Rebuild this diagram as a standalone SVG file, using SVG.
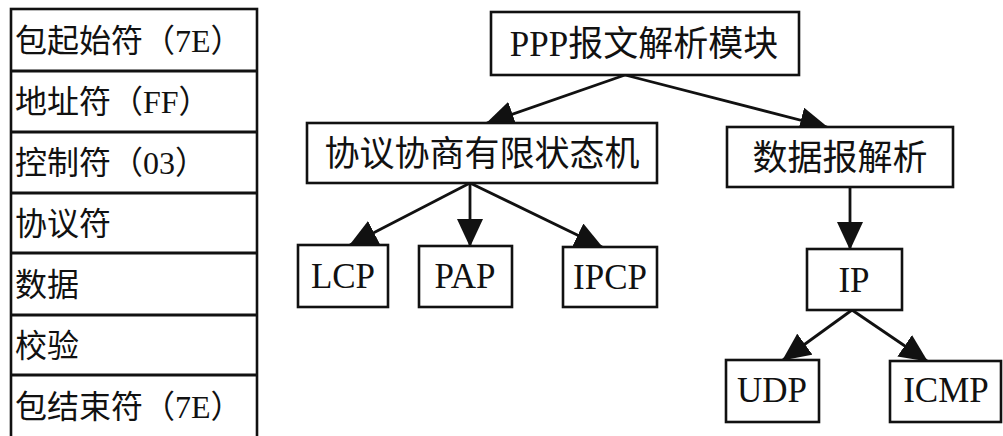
<svg xmlns="http://www.w3.org/2000/svg" width="1003" height="436" viewBox="0 0 1003 436">
<style>
.box{fill:#fff;stroke:#111;stroke-width:2.6}
.t{font-family:"Liberation Serif","Noto Sans CJK SC",serif;fill:#111}
.tl{font-size:32px}
.tm{font-size:35px;text-anchor:middle}
.c{stroke:#111;stroke-width:2.8;fill:none}
</style>
<defs>
<marker id="ah" markerUnits="userSpaceOnUse" markerWidth="28" markerHeight="26" viewBox="0 0 28 26" refX="27" refY="13" orient="auto">
<path d="M0,0 L28,13 L0,26 Z" fill="#111"/>
</marker>
</defs>
<rect width="1003" height="436" fill="#fff"/>
<g id="frame-table">
<rect class="box" x="11" y="9" width="246" height="440"/>
<line class="c" x1="11" y1="71" x2="257" y2="71"/>
<line class="c" x1="11" y1="132" x2="257" y2="132"/>
<line class="c" x1="11" y1="193" x2="257" y2="193"/>
<line class="c" x1="11" y1="253" x2="257" y2="253"/>
<line class="c" x1="11" y1="315" x2="257" y2="315"/>
<line class="c" x1="11" y1="375" x2="257" y2="375"/>
<text class="t tl" x="15" y="52">包起始符（7E）</text>
<text class="t tl" x="15" y="113">地址符（FF）</text>
<text class="t tl" x="15" y="174">控制符（03）</text>
<text class="t tl" x="15" y="235">协议符</text>
<text class="t tl" x="15" y="296">数据</text>
<text class="t tl" x="15" y="357">校验</text>
<text class="t tl" x="15" y="418">包结束符（7E）</text>
</g>
<g id="connectors">
<line class="c" x1="625" y1="75" x2="487" y2="123" marker-end="url(#ah)"/>
<line class="c" x1="625" y1="75" x2="827" y2="127" marker-end="url(#ah)"/>
<line class="c" x1="470" y1="183" x2="350" y2="245" marker-end="url(#ah)"/>
<line class="c" x1="470" y1="183" x2="470" y2="246" marker-end="url(#ah)"/>
<line class="c" x1="470" y1="183" x2="602" y2="247" marker-end="url(#ah)"/>
<line class="c" x1="850" y1="187" x2="850" y2="249" marker-end="url(#ah)"/>
<line class="c" x1="852" y1="310" x2="783" y2="360" marker-end="url(#ah)"/>
<line class="c" x1="852" y1="310" x2="927" y2="361" marker-end="url(#ah)"/>
</g>
<g id="ppp">
<rect class="box" x="491" y="12" width="308" height="63"/>
<text class="t tm" x="644" y="56">PPP报文解析模块</text>
</g>
<g id="fsm">
<rect class="box" x="307" y="123" width="350" height="60"/>
<text class="t tm" x="482" y="166">协议协商有限状态机</text>
</g>
<g id="datagram">
<rect class="box" x="727" y="127" width="226" height="60"/>
<text class="t tm" x="840" y="170">数据报解析</text>
</g>
<g id="lcp">
<rect class="box" x="298" y="245" width="90" height="62"/>
<text class="t tm" x="343" y="288">LCP</text>
</g>
<g id="pap">
<rect class="box" x="419" y="246" width="93" height="61"/>
<text class="t tm" x="465" y="288">PAP</text>
</g>
<g id="ipcp">
<rect class="box" x="563" y="247" width="94" height="60"/>
<text class="t tm" x="610" y="289">IPCP</text>
</g>
<g id="ip">
<rect class="box" x="807" y="249" width="95" height="61"/>
<text class="t tm" x="854" y="292">IP</text>
</g>
<g id="udp">
<rect class="box" x="726" y="360" width="93" height="62"/>
<text class="t tm" x="772" y="402">UDP</text>
</g>
<g id="icmp">
<rect class="box" x="890" y="361" width="111" height="61"/>
<text class="t tm" x="946" y="402">ICMP</text>
</g>
</svg>
